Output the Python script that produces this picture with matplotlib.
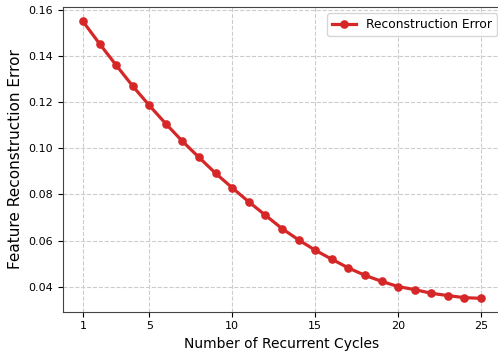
import matplotlib
matplotlib.use("Agg")
import matplotlib.pyplot as plt

cycles = list(range(1, 26))
errors = [0.1552, 0.1455, 0.1362, 0.1271, 0.1187, 0.1107, 0.1031, 0.0961, 0.0892,
          0.0829, 0.0768, 0.0710, 0.0652, 0.0603, 0.0558, 0.0519, 0.0481, 0.0449,
          0.0423, 0.0400, 0.0387, 0.0371, 0.0361, 0.0352, 0.0349]
xticks = [1, 5, 10, 15, 20, 25]

fig = plt.figure(figsize=(4.98, 3.52), dpi=100)
ax = fig.add_axes([63/498, 1-311.7/352, (501-63)/498, (311.7-7.3)/352])
ax.plot(cycles, errors, color='#d62728', marker='o', linewidth=2.3, markersize=5.2,
        label='Reconstruction Error')
ax.set_xticks(xticks)
ax.set_ylim(0.0291, 0.1613)
ax.grid(True, linestyle='--', color='#cccccc', linewidth=0.8)
ax.tick_params(labelsize=8)
ax.set_xlabel('Number of Recurrent Cycles', fontsize=10)
ax.set_ylabel('Feature Reconstruction Error', fontsize=11, labelpad=4)
for s in ax.spines.values():
    s.set_color('#444444')
ax.legend(loc='upper right', fontsize=8.8, bbox_to_anchor=(1.005, 1.0))
fig.savefig('out.png', dpi=100)
